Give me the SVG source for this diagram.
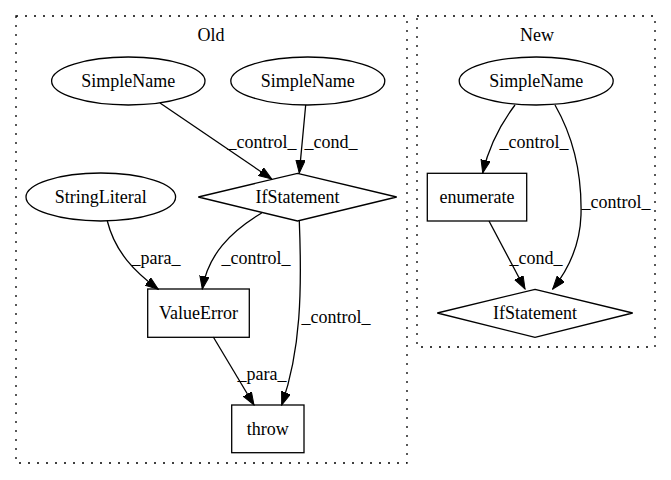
<svg xmlns="http://www.w3.org/2000/svg" width="671" height="480" viewBox="0 0 671 480">
<style>
text{font-family:"Liberation Serif","Times New Roman",serif;font-size:18px;fill:#000}
.n{text-anchor:middle}
.shape{fill:none;stroke:#000;stroke-width:1.3}
.cl{fill:none;stroke:#000;stroke-width:1.3;stroke-dasharray:2,7}
.e{fill:none;stroke:#000;stroke-width:1.3;marker-end:url(#arr)}
</style>
<defs>
<marker id="arr" markerUnits="userSpaceOnUse" markerWidth="14" markerHeight="10" refX="13" refY="4.7" orient="auto">
<path d="M0,0 L13,4.7 L0,9.4 z" fill="#000" stroke="#000" stroke-width="1"/>
</marker>
</defs>
<rect width="671" height="480" fill="#fff"/>
<g id="cluster_old">
<rect class="cl" x="16" y="16" width="391" height="447"/>
<text class="n" x="211" y="41">Old</text>
</g>
<g id="cluster_new">
<rect class="cl" x="417" y="16" width="238" height="331"/>
<text class="n" x="537" y="41">New</text>
</g>
<g id="edges">
<path class="e" d="M160,103 L271.7,179"/>
<text class="n" x="262" y="148">_control_</text>
<path class="e" d="M305.7,105 L299.3,173"/>
<text class="n" x="331" y="148">_cond_</text>
<path class="e" d="M107.3,221 C115,252 135,272 158.3,289.3"/>
<text class="n" x="156" y="264">_para_</text>
<path class="e" d="M261.7,213 C230,232 208,255 202.3,289"/>
<text class="n" x="256" y="264">_control_</text>
<path class="e" d="M299.3,221 C302,290 301,350 281.7,405"/>
<text class="n" x="336" y="323">_control_</text>
<path class="e" d="M213.3,337 L254,405"/>
<text class="n" x="262" y="380">_para_</text>
<path class="e" d="M515,105 C500,125 488,150 482.7,173"/>
<text class="n" x="534" y="148">_control_</text>
<path class="e" d="M555,105 C575,140 582,175 581,215 C580,245 568,270 552.7,289"/>
<text class="n" x="616" y="208">_control_</text>
<path class="e" d="M489,221 L525,289"/>
<text class="n" x="536" y="264">_cond_</text>
</g>
<g id="old_simplename1">
<ellipse class="shape" cx="128.3" cy="81" rx="76.7" ry="24"/>
<text class="n" x="128.3" y="87">SimpleName</text>
</g>
<g id="old_simplename2">
<ellipse class="shape" cx="307.8" cy="81" rx="77" ry="24"/>
<text class="n" x="307.8" y="87">SimpleName</text>
</g>
<g id="old_stringliteral">
<ellipse class="shape" cx="100.8" cy="197" rx="74.8" ry="24"/>
<text class="n" x="100.8" y="203">StringLiteral</text>
</g>
<g id="old_ifstatement">
<polygon class="shape" points="297.5,173.3 396.7,197 297.5,221 198.3,197"/>
<text class="n" x="297.5" y="203">IfStatement</text>
</g>
<g id="old_valueerror">
<rect class="shape" x="147.7" y="289" width="101.6" height="48.3"/>
<text class="n" x="198.5" y="319">ValueError</text>
</g>
<g id="old_throw">
<rect class="shape" x="231.7" y="405" width="72.3" height="47.7"/>
<text class="n" x="267.8" y="435">throw</text>
</g>
<g id="new_simplename">
<ellipse class="shape" cx="536.2" cy="81" rx="77" ry="24"/>
<text class="n" x="536.2" y="87">SimpleName</text>
</g>
<g id="new_enumerate">
<rect class="shape" x="427.3" y="173.3" width="99.4" height="47.7"/>
<text class="n" x="477" y="203">enumerate</text>
</g>
<g id="new_ifstatement">
<polygon class="shape" points="535,289.3 632.7,313 535,337.3 437.3,313"/>
<text class="n" x="535" y="319">IfStatement</text>
</g>
</svg>
